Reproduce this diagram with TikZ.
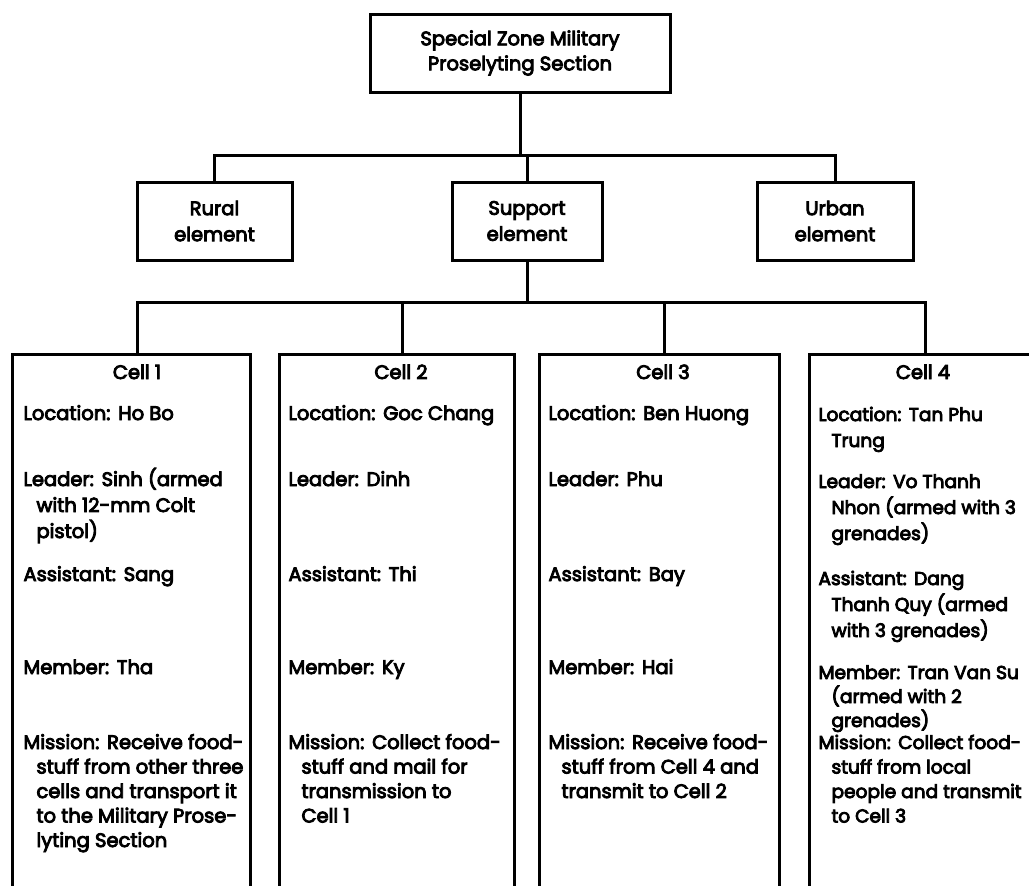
\documentclass[tikz,border=0pt]{standalone}
\usepackage{fontspec}
\setmainfont{Poppins}[FakeBold=4.5]
\newcommand{\ind}{\hspace*{13pt}}
\newcommand{\sep}{\hspace{0.4em}}
\begin{document}
\begin{tikzpicture}[x=1pt,y=-1pt,line width=3pt,
  txt/.style={font=\fontsize{19.5}{26}\selectfont},
  box/.style={draw,rectangle,inner sep=0pt,align=center,txt},
  cellbox/.style={draw,rectangle,inner sep=0pt,anchor=north west,minimum height=600pt},
  hdr/.style={anchor=base,inner sep=0pt,txt},
  entry/.style={anchor=base west,inner sep=0pt,align=left,txt},
  mission/.style={entry,font=\fontsize{19.5}{24.5}\selectfont},
  entryb/.style={entry,font=\fontsize{18.6}{26}\selectfont},
  link/.style={line width=3pt,line cap=rect}]
\useasboundingbox (0,0) rectangle (1029,886);
\clip (0,0) rectangle (1029,886);
\fill[white] (0,0) rectangle (1029,886);

\node[box,minimum width=300pt,minimum height=78pt,font=\fontsize{19.5}{25}\selectfont] (top) at (520,53) {Special Zone Military\\Proselyting Section};
\node[box,minimum width=155pt,minimum height=78pt] (rural) at (214.5,221) {Rural\\element};
\node[box,minimum width=150pt,minimum height=78pt] (support) at (527,221) {Support\\element};
\node[box,minimum width=156pt,minimum height=78pt] (urban) at (835,221) {Urban\\element};

\coordinate (bar1) at (0,155);
\draw[link] (rural.north) |- (urban.north |- bar1) -- (urban.north);
\draw[link] (top.south) -- (top.south |- bar1);
\draw[link] (support.north) -- (support.north |- bar1);

\node[cellbox,minimum width=238pt] (c1) at (11,353) {};
\node[cellbox,minimum width=235pt] (c2) at (278,353) {};
\node[cellbox,minimum width=240pt] (c3) at (538,353) {};
\node[cellbox,minimum width=232pt] (c4) at (808,353) {};

\coordinate (bar2) at (0,302);
\draw[link] (support.south) -- (support.south |- bar2);
\draw[link] ([xshift=6pt]c1.north) -- ++(0,-51) -| (c4.north);
\draw[link] ([xshift=5.5pt]c2.north) -- ++(0,-51);
\draw[link] ([xshift=5pt]c3.north) -- ++(0,-51);

% Cell 1
\node[hdr] (h1) at (137,379) {Cell 1};
\node[entry] (c1loc) at (22,420) {Location:\sep Ho Bo};
\node[entry] (c1lead) at (22,538) {Leader:\sep Sinh (armed\\\ind with 12-mm Colt\\\ind pistol)};
\node[entry] (c1ast) at (22,581) {Assistant:\sep Sang};
\node[entry] (c1mem) at (22,674) {Member:\sep Tha};
\node[mission] (c1mis) at (22,847) {Mission:\sep Receive food-\\\ind stuff from other three\\\ind cells and transport it\\\ind to the Military Prose-\\\ind lyting Section};

% Cell 2
\node[hdr] (h2) at (401,379) {Cell 2};
\node[entry] (c2loc) at (287,420) {Location:\sep Goc Chang};
\node[entry] (c2lead) at (287,486) {Leader:\sep Dinh};
\node[entry] (c2ast) at (287,581) {Assistant:\sep Thi};
\node[entry] (c2mem) at (287,674) {Member:\sep Ky};
\node[mission] (c2mis) at (287,822.5) {Mission:\sep Collect food-\\\ind stuff and mail for\\\ind transmission to\\\ind Cell 1};

% Cell 3
\node[hdr] (h3) at (663,379) {Cell 3};
\node[entry] (c3loc) at (547,420) {Location:\sep Ben Huong};
\node[entry] (c3lead) at (547,486) {Leader:\sep Phu};
\node[entry] (c3ast) at (547,581) {Assistant:\sep Bay};
\node[entry] (c3mem) at (547,674) {Member:\sep Hai};
\node[mission] (c3mis) at (547,798) {Mission:\sep Receive food-\\\ind stuff from Cell 4 and\\\ind transmit to Cell 2};

% Cell 4
\node[hdr] (h4) at (923,379) {Cell 4};
\node[entryb] (c4loc) at (817,447) {Location:\sep Tan Phu\\\ind Trung};
\node[entryb] (c4lead) at (817,540) {Leader:\sep Vo Thanh\\\ind Nhon (armed with 3\\\ind grenades)};
\node[entryb] (c4ast) at (817,637) {Assistant:\sep Dang\\\ind Thanh Quy (armed\\\ind with 3 grenades)};
\node[entryb,font=\fontsize{18.6}{24}\selectfont] (c4mem) at (817,727) {Member:\sep Tran Van Su\\\ind (armed with 2\\\ind grenades)};
\node[entryb,font=\fontsize{18.6}{24.5}\selectfont] (c4mis) at (817,822.5) {Mission:\sep Collect food-\\\ind stuff from local\\\ind people and transmit\\\ind to Cell 3};
\end{tikzpicture}
\end{document}
